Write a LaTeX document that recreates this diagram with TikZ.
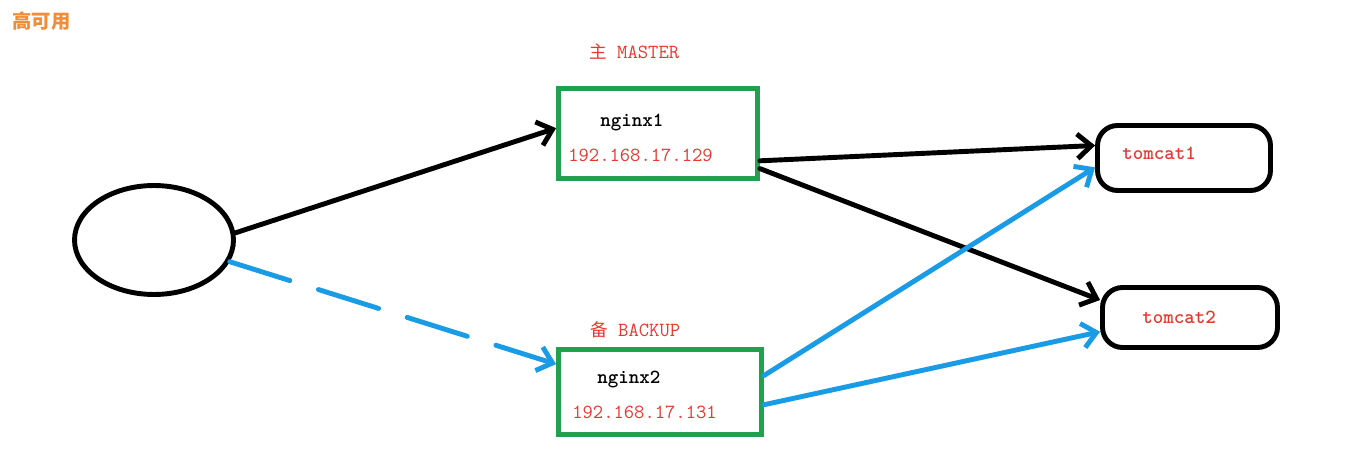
\documentclass[tikz,border=0pt]{standalone}
\usepackage{fontspec}
\newfontfamily\cjk{Noto Sans CJK SC}
\usetikzlibrary{arrows.meta,shapes.geometric}
\definecolor{labelred}{HTML}{E8382E}
\definecolor{boxgreen}{HTML}{21A04E}
\definecolor{lineblue}{HTML}{1A9BE6}
\definecolor{titleorange}{HTML}{F28C38}
\begin{document}
\begin{tikzpicture}[
      x=0.02cm, y=-0.02cm,
      server/.style={rectangle,
                    draw=boxgreen,
                    line width=2.8pt},
      tomcat/.style={rectangle,
                    draw,
                    line width=2.8pt,
                    rounded corners=0.4cm},
      client/.style={ellipse,
                    draw,
                    line width=2.8pt,
                    minimum width=3.18cm,
                    minimum height=2.18cm},
      hostname/.style={anchor=base west,
                    inner sep=0pt,
                    font=\ttfamily\bfseries\fontsize{11.4}{13}\selectfont},
      addr/.style={anchor=base west,
                    inner sep=0pt,
                    text=labelred,
                    font=\ttfamily\fontsize{11.4}{13}\selectfont},
      link/.style={line width=2.8pt,
                    line cap=round,
                    -{Straight Barb[length=8pt,width=14pt,line width=2.8pt]}}
    ]
    \useasboundingbox (0,0) rectangle (1355,449);

    \draw (12,29)
          node[anchor=base west,inner sep=0pt,text=titleorange,
               font=\cjk\bfseries\fontsize{11}{13}\selectfont]
          (title)
          {高可用};

    \draw (154,240)
          node[client]
          (client)
          {};

    \draw (658,133.5)
          node[server,minimum width=3.98cm,minimum height=1.8cm]
          (nginx1)
          {};
    \draw (589,59)
          node[addr]
          (master)
          {{\cjk\fontsize{10}{12}\selectfont 主}~MASTER};
    \draw (600,127)
          node[hostname]
          (nginx1name)
          {nginx1};
    \draw (568,162)
          node[addr]
          (nginx1addr)
          {192.168.17.129};

    \draw (660,392)
          node[server,minimum width=4.06cm,minimum height=1.7cm]
          (nginx2)
          {};
    \draw (590,336)
          node[addr]
          (backup)
          {{\cjk\fontsize{10}{12}\selectfont 备}~BACKUP};
    \draw (597,383)
          node[hostname]
          (nginx2name)
          {nginx2};
    \draw (572,418)
          node[addr]
          (nginx2addr)
          {192.168.17.131};

    \draw (1184,158)
          node[tomcat,minimum width=3.46cm,minimum height=1.3cm]
          (tomcat1)
          {};
    \draw (1122,160)
          node[hostname,text=labelred]
          (tomcat1name)
          {tomcat1};

    \draw (1190,317.5)
          node[tomcat,minimum width=3.5cm,minimum height=1.2cm]
          (tomcat2)
          {};
    \draw (1142,323)
          node[hostname,text=labelred]
          (tomcat2name)
          {tomcat2};

    \draw [link] (client.5) to (nginx1.177);
    \draw [link,lineblue,dash pattern=on 1.26cm off 0.6cm]
                 (client.-16) to (nginx2.165);
    \draw [link] (nginx1.-15) to (tomcat1.172);
    \draw [link] (nginx1.-19) to (tomcat2.169);
    \draw [link,lineblue] (nginx2.9) to (tomcat1.186);
    \draw [link,lineblue] (nginx2.-7) to (tomcat2.189);

\end{tikzpicture}
\end{document}
